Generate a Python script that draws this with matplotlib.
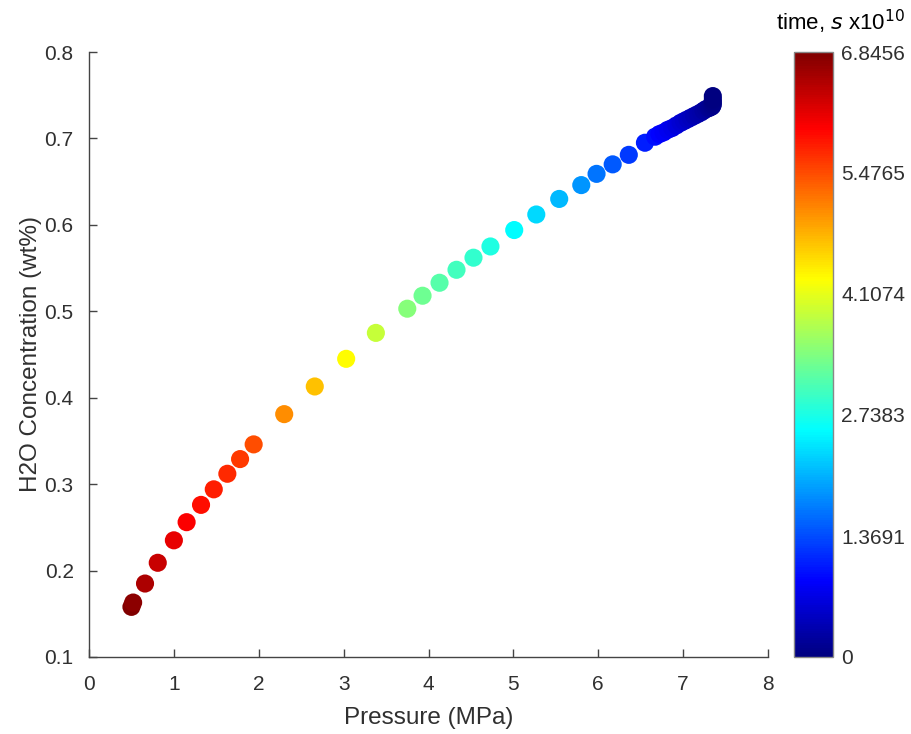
import matplotlib
matplotlib.use("Agg")
import matplotlib.pyplot as plt
from matplotlib.colors import LinearSegmentedColormap

plt.rcParams['font.family'] = ['Liberation Sans', 'DejaVu Sans']

pressure = [0.50, 0.52, 0.66, 0.81, 1.00, 1.15, 1.32, 1.47, 1.63, 1.78, 1.94,
            2.30, 2.66, 3.03, 3.38, 3.75, 3.93, 4.13, 4.33, 4.53, 4.73,
            5.01, 5.27, 5.54, 5.80, 5.98, 6.17, 6.36, 6.55,
            6.67, 6.72, 6.77, 6.82, 6.87, 6.92, 6.97, 7.01, 7.05, 7.09, 7.13,
            7.17, 7.21, 7.24, 7.27, 7.30, 7.32, 7.34, 7.35, 7.35, 7.35, 7.35]
concentration = [0.158, 0.163, 0.185, 0.209, 0.235, 0.256, 0.276, 0.294, 0.312, 0.329, 0.346,
                 0.381, 0.413, 0.445, 0.475, 0.503, 0.518, 0.533, 0.548, 0.562, 0.575,
                 0.594, 0.612, 0.630, 0.646, 0.659, 0.670, 0.681, 0.695,
                 0.702, 0.705, 0.707, 0.710, 0.712, 0.715, 0.718, 0.720, 0.722, 0.724, 0.726,
                 0.728, 0.730, 0.732, 0.734, 0.735, 0.736, 0.737, 0.739, 0.742, 0.745, 0.749]
time_e10 = [6.8456, 6.75, 6.55, 6.35, 6.15, 6.00, 5.90, 5.80, 5.70, 5.60, 5.47,
            5.05, 4.70, 4.28, 3.90, 3.45, 3.30, 3.15, 3.02, 2.90, 2.78,
            2.55, 2.32, 2.10, 1.85, 1.65, 1.45, 1.25, 1.05,
            0.95, 0.88, 0.82, 0.76, 0.70, 0.64, 0.58, 0.52, 0.47, 0.42, 0.37,
            0.32, 0.28, 0.24, 0.20, 0.16, 0.13, 0.10, 0.07, 0.05, 0.02, 0.0]
cbar_ticks = [0, 1.3691, 2.7383, 4.1074, 5.4765, 6.8456]
cbar_labels = ['0', '1.3691', '2.7383', '4.1074', '5.4765', '6.8456']

# MATLAB-style jet colormap
matlab_jet = LinearSegmentedColormap.from_list('matlab_jet', [
    (0.0, (0, 0, 0.5)), (0.125, (0, 0, 1)), (0.375, (0, 1, 1)),
    (0.625, (1, 1, 0)), (0.875, (1, 0, 0)), (1.0, (0.5, 0, 0))], N=256)

fig = plt.figure(figsize=(9.11, 7.34), dpi=100)
ax = fig.add_axes([89/911, 77/734, 679/911, 605/734])
cax = fig.add_axes([794/911, 77/734, 39/911, 605/734])

gray = '#303030'
sc = ax.scatter(pressure, concentration, c=time_e10, cmap=matlab_jet, vmin=0, vmax=6.8456,
                s=170, edgecolors='none', zorder=3)

ax.set_xlim(0, 8)
ax.set_ylim(0.1, 0.8)
ax.set_xticks(range(0, 9))
ax.set_yticks([0.1, 0.2, 0.3, 0.4, 0.5, 0.6, 0.7, 0.8])
ax.set_yticklabels(['0.1', '0.2', '0.3', '0.4', '0.5', '0.6', '0.7', '0.8'])
for s in ['top', 'right']:
    ax.spines[s].set_visible(False)
for s in ['left', 'bottom']:
    ax.spines[s].set_color('#444444')
    ax.spines[s].set_linewidth(1.0)
ax.tick_params(direction='in', length=6, width=1.0, colors='#444444', labelcolor=gray,
               labelsize=15)
ax.tick_params(axis='x', pad=13)
ax.tick_params(axis='y', pad=11)
ax.set_xlabel('Pressure (MPa)', fontsize=17.5, color=gray, labelpad=9)
ax.set_ylabel('H2O Concentration (wt%)', fontsize=17.5, color=gray, labelpad=2)

cb = fig.colorbar(sc, cax=cax)
cb.set_ticks(cbar_ticks)
cb.set_ticklabels(cbar_labels)
cb.ax.tick_params(length=0, labelsize=15, colors=gray, pad=6)
cb.outline.set_edgecolor('#888888')
cb.outline.set_linewidth(1.0)

fig.text(905/911, 1 - 22/734, r'time, $s$ x10$^{10}$', fontsize=16, ha='right', va='center',
         color='black')

fig.savefig('out.png', dpi=100, facecolor='white')
